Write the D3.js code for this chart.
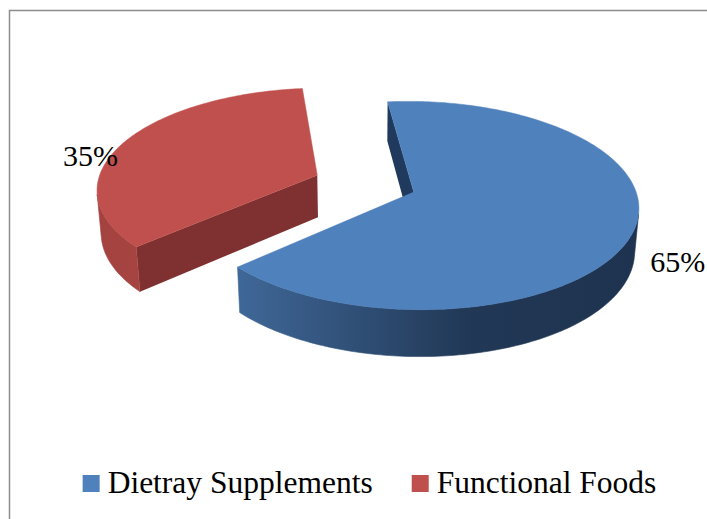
<!DOCTYPE html>
<html><head><meta charset="utf-8">
<script src="https://cdn.jsdelivr.net/npm/d3@7"></script>
<style>html,body{margin:0;padding:0;background:#fff;} svg{display:block}
text{font-family:"Liberation Serif","Times New Roman","DejaVu Serif",serif;}</style>
</head><body>
<svg id="chart" width="707" height="519"></svg>
<script>
// ---- data ----
const categories = ["Dietray Supplements", "Functional Foods"];
const values = [65, 35];
const valueLabels = ["65%", "35%"];

// ---- style ----
const topColors  = ["#4F81BD", "#C0504D"];
const sideStops  = [[["0%","#3F6797"],["58%","#213856"],["100%","#1E334F"]],
                    [["0%","#A3423F"],["100%","#B44C49"]]];
const cutColors  = ["#1F3A5C", "#7E3130"];   // face at start angle
const cutColors2 = ["#1F3A5C", "#A54340"];   // face at end angle

const W = 707, H = 519;
const svg = d3.select("#chart");
svg.append("rect").attr("x", 9.5).attr("y", 10.5).attr("width", W).attr("height", H)
  .attr("fill", "none").attr("stroke", "#8c8c8c").attr("stroke-width", 1.5);

// ---- simple perspective camera ----
const tilt = 28.7 * Math.PI / 180, sT = Math.sin(tilt), cT = Math.cos(tilt);
const camDist = 6.98, focal = 1512, originX = 365, originY = 226;
const thick = 0.22, explode = 0.235;
const firstSliceAngle = -6 * Math.PI / 180;
const cam = [0, -camDist * cT, camDist * sT];
function project(X, Y, Z) {
  const w = camDist + Y * cT - Z * sT;
  return [originX + focal * X / w, originY - focal * (Y * sT + Z * cT) / w];
}
function facing(n, p) {
  return n[0] * (cam[0] - p[0]) + n[1] * (cam[1] - p[1]) + n[2] * (cam[2] - p[2]) > 0;
}
const radius = d3.scaleLinear().domain([0, 1]).range([0, 1]);
const line = d3.line().curve(d3.curveLinearClosed);

const arcs = d3.pie().sort(null).startAngle(firstSliceAngle)
  .endAngle(firstSliceAngle + 2 * Math.PI).value(d => d)(values);
const defs = svg.append("defs");

const slices = arcs.map((a, i) => {
  const mid = (a.startAngle + a.endAngle) / 2;
  const cx = explode * Math.sin(mid), cy = explode * Math.cos(mid);
  return {a, i, mid, cx, cy};
}).sort((p, q) => q.cy - p.cy); // back first

const pieG = svg.append("g");
slices.forEach(s => {
  const {a, i, cx, cy} = s;
  const R = radius(1);
  const rim = (ang, Z) => project(cx + R * Math.sin(ang), cy + R * Math.cos(ang), Z);
  const steps = Math.max(2, Math.ceil((a.endAngle - a.startAngle) / (Math.PI / 180)));
  const angs = d3.range(steps + 1).map(k => a.startAngle + (a.endAngle - a.startAngle) * k / steps);
  const g = pieG.append("g");

  const a0 = a.startAngle, a1 = a.endAngle;
  const n0 = [-Math.cos(a0), Math.sin(a0), 0];
  const p0 = [cx + 0.5 * Math.sin(a0), cy + 0.5 * Math.cos(a0), thick / 2];
  if (facing(n0, p0)) {
    g.append("path").attr("d", line([project(cx, cy, thick), rim(a0, thick), rim(a0, 0), project(cx, cy, 0)]))
      .attr("fill", cutColors[i]);
  }
  const n1 = [Math.cos(a1), -Math.sin(a1), 0];
  const p1 = [cx + 0.5 * Math.sin(a1), cy + 0.5 * Math.cos(a1), thick / 2];
  if (facing(n1, p1)) {
    g.append("path").attr("d", line([project(cx, cy, thick), rim(a1, thick), rim(a1, 0), project(cx, cy, 0)]))
      .attr("fill", cutColors2[i]);
  }

  const runs = [];
  let cur = null;
  for (let k = 0; k < steps; k++) {
    const m = (angs[k] + angs[k + 1]) / 2;
    const vis = facing([Math.sin(m), Math.cos(m), 0], [cx + Math.sin(m), cy + Math.cos(m), thick / 2]);
    if (vis) { if (!cur) { cur = [k]; runs.push(cur); } cur[1] = k + 1; }
    else cur = null;
  }
  const allX = angs.map(t => rim(t, 0)[0]);
  const gid = "side" + i;
  const grad = defs.append("linearGradient").attr("id", gid).attr("gradientUnits", "userSpaceOnUse")
    .attr("x1", d3.min(allX)).attr("x2", d3.max(allX)).attr("y1", 0).attr("y2", 0);
  sideStops[i].forEach(st => grad.append("stop").attr("offset", st[0]).attr("stop-color", st[1]));
  runs.forEach(([k0, k1]) => {
    const tp = d3.range(k0, k1 + 1).map(k => rim(angs[k], thick));
    const bt = d3.range(k1, k0 - 1, -1).map(k => rim(angs[k], 0));
    g.append("path").attr("d", line(tp.concat(bt))).attr("fill", `url(#${gid})`)
      .attr("stroke", `url(#${gid})`).attr("stroke-width", 0.6);
  });

  const topPts = [project(cx, cy, thick)].concat(angs.map(t => rim(t, thick)));
  g.append("path").attr("d", line(topPts)).attr("fill", topColors[i])
    .attr("stroke", topColors[i]).attr("stroke-width", 0.5);
});

// ---- data labels ----
slices.forEach(s => {
  const r = 1.2;
  const p = project(s.cx + r * Math.sin(s.mid), s.cy + r * Math.cos(s.mid), thick / 2);
  svg.append("text").attr("x", p[0]).attr("y", p[1]).attr("dy", "0.35em")
    .attr("text-anchor", "middle").style("font-size", "30px")
    .attr("fill", "#000").text(valueLabels[s.i]);
});

// ---- legend ----
const lg = svg.append("g");
let lx = 0;
categories.forEach((c, i) => {
  lg.append("rect").attr("x", lx).attr("y", 475).attr("width", 17).attr("height", 17).attr("fill", topColors[i]);
  const t = lg.append("text").attr("x", lx + 25).attr("y", 493)
    .style("font-size", "31.5px").attr("fill", "#000").text(c);
  lx += 25 + t.node().getComputedTextLength() + 39;
});
const total = lx - 39;
lg.attr("transform", `translate(${369.5 - total / 2},0)`);
</script>
</body></html>
